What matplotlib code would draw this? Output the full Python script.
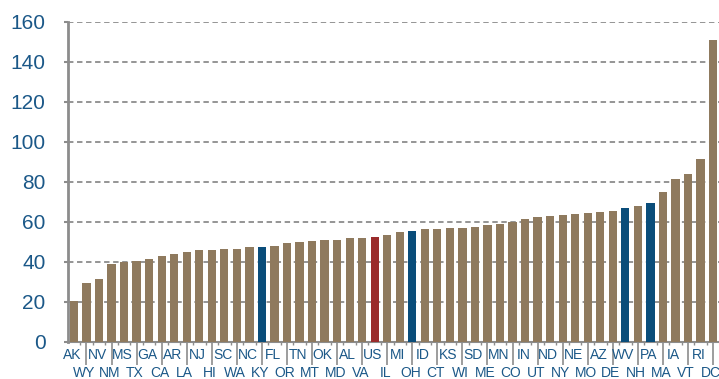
import numpy as np
import matplotlib.pyplot as plt
import matplotlib.transforms as mtransforms

plt.rcParams['font.family'] = ['Liberation Sans', 'DejaVu Sans']

states = ['AK', 'WY', 'NV', 'NM', 'MS', 'TX', 'GA', 'CA', 'AR', 'LA',
          'NJ', 'HI', 'SC', 'WA', 'NC', 'KY', 'FL', 'OR', 'TN', 'MT',
          'OK', 'MD', 'AL', 'VA', 'US', 'IL', 'MI', 'OH', 'ID', 'CT',
          'KS', 'WI', 'SD', 'ME', 'MN', 'CO', 'IN', 'UT', 'ND', 'NY',
          'NE', 'MO', 'AZ', 'DE', 'WV', 'NH', 'PA', 'MA', 'IA', 'VT',
          'RI', 'DC']
values = [20.3, 29.5, 31.2, 38.7, 39.8, 40.5, 41.2, 42.7, 43.8, 44.7,
          45.7, 46.0, 46.3, 46.4, 47.3, 47.3, 48.0, 49.2, 50.0, 50.3,
          50.8, 50.9, 51.8, 51.9, 52.3, 53.3, 54.7, 55.3, 56.2, 56.3,
          56.8, 56.9, 57.3, 58.3, 59.0, 59.7, 61.3, 62.5, 62.8, 63.3,
          63.7, 64.5, 64.8, 65.3, 66.8, 67.8, 69.3, 75.0, 81.3, 83.8,
          91.3, 151.0]
highlight_blue = ['KY', 'OH', 'WV', 'PA']
highlight_red = ['US']
yticks = [0, 20, 40, 60, 80, 100, 120, 140, 160]

brown = '#8f7a5e'
blue = '#0a4d7a'
red = '#9a2b2b'
label_col = '#1b5888'
axis_gray = '#8c8c8c'

colors = []
for s in states:
    if s in highlight_blue:
        colors.append(blue)
    elif s in highlight_red:
        colors.append(red)
    else:
        colors.append(brown)

fig = plt.figure(figsize=(7.19, 3.79), dpi=100)
ax = fig.add_axes([67.7 / 719, 37.3 / 379, 651.6 / 719, 320 / 379])

x = np.arange(len(states))
ax.bar(x, values, width=0.66, color=colors, zorder=3)

ax.set_xlim(-0.5, len(states) - 0.5)
ax.set_ylim(0, 160)
ax.set_yticks(yticks)
ax.yaxis.grid(True, color=axis_gray, linestyle=(0, (3, 2)), linewidth=1.3, zorder=0)
ax.set_axisbelow(True)

for side in ['top', 'right']:
    ax.spines[side].set_visible(False)
ax.spines['left'].set_color(axis_gray)
ax.spines['left'].set_linewidth(2)
ax.spines['bottom'].set_color(axis_gray)
ax.spines['bottom'].set_linewidth(1.5)

ax.tick_params(axis='y', length=3, width=1.5, color=axis_gray, pad=13,
               labelsize=15, labelcolor=label_col)

# long separators under every other category, short ticks between bars
ax.set_xticks(x[1::2])
ax.set_xticklabels([])
ax.tick_params(axis='x', which='major', length=16.5, width=1.2, color=axis_gray)
ax.set_xticks(x[:-1] + 0.5, minor=True)
ax.tick_params(axis='x', which='minor', length=2.5, width=1, color=axis_gray)

# state codes staggered on two rows
trans = mtransforms.blended_transform_factory(ax.transData, ax.transAxes)
for i, s in enumerate(states):
    yy = -13.5 / 320 if i % 2 == 0 else -31.5 / 320
    ax.text(i - 0.15, yy, s, transform=trans, ha='center', va='center',
            fontsize=10, color=label_col)

fig.savefig('out.png', dpi=100)
